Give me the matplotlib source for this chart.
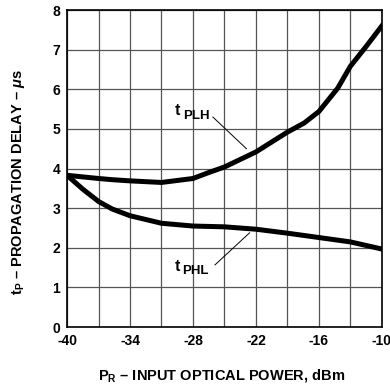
import matplotlib
matplotlib.use("Agg")
import matplotlib.pyplot as plt

# values
p_in = [-40, -38.5, -37, -35.7, -34, -31, -28, -26.5, -25, -22, -19, -17.4, -16, -14.2, -13, -11.5, -10]
t_plh = [3.83, 3.79, 3.75, 3.72, 3.69, 3.65, 3.75, 3.9, 4.04, 4.42, 4.92, 5.15, 5.44, 6.03, 6.58, 7.08, 7.6]
p_phl = [-40, -38.5, -37, -35.7, -34, -31, -28, -25, -22, -19, -16, -13, -10]
t_phl = [3.83, 3.48, 3.17, 2.98, 2.81, 2.62, 2.55, 2.53, 2.47, 2.37, 2.26, 2.15, 1.97]
x_ticks = [-40, -34, -28, -22, -16, -10]
y_ticks = [0, 1, 2, 3, 4, 5, 6, 7, 8]

plt.rcParams['font.family'] = ['Liberation Sans', 'DejaVu Sans']
plt.rcParams['font.weight'] = 'bold'
plt.rcParams['axes.labelweight'] = 'bold'
plt.rcParams['mathtext.fontset'] = 'custom'
plt.rcParams['mathtext.rm'] = 'Liberation Sans:bold'
plt.rcParams['mathtext.bf'] = 'Liberation Sans:bold'
plt.rcParams['mathtext.it'] = 'Liberation Sans:bold:italic'

fig = plt.figure(figsize=(3.9, 3.88), dpi=100)
ax = fig.add_axes([0.172, 0.157, 0.807, 0.817])

ax.plot(p_in, t_plh, color='black', lw=3.6, solid_joinstyle='round', zorder=3)
ax.plot(p_phl, t_phl, color='black', lw=3.6, solid_joinstyle='round', zorder=3)

ax.set_xlim(-40, -10)
ax.set_ylim(0, 8)
ax.set_xticks(x_ticks)
ax.set_xticks(range(-37, -10, 6), minor=True)
ax.set_yticks(y_ticks)
ax.set_xticklabels([str(v) for v in x_ticks])
ax.tick_params(which='both', length=0, labelsize=10, pad=5)
ax.grid(which='both', color='#555555', lw=0.9)
for s in ax.spines.values():
    s.set_linewidth(1.2)

# curve labels with leader lines
ax.text(-29.5, 5.47, 't', fontsize=11.5, ha='center', va='center')
ax.text(-27.7, 5.33, 'PLH', fontsize=9.5, ha='center', va='center')
ax.plot([-26.1, -22.9], [5.3, 4.5], color='black', lw=0.7)
ax.text(-29.45, 1.54, 't', fontsize=11.5, ha='center', va='center')
ax.text(-27.8, 1.42, 'PHL', fontsize=9.5, ha='center', va='center')
ax.plot([-25.9, -22.6], [1.57, 2.38], color='black', lw=0.7)

ax.set_xlabel(r'$\mathrm{P_R}$ – INPUT OPTICAL POWER, dBm', fontsize=10.5)
ax.set_ylabel(r'$\mathrm{t_P}$ – PROPAGATION DELAY – $\mu$s', fontsize=10.5)
ax.xaxis.set_label_coords(0.49, -0.125)
ax.yaxis.set_label_coords(-0.127, 0.457)

fig.savefig('out.png', dpi=100)
